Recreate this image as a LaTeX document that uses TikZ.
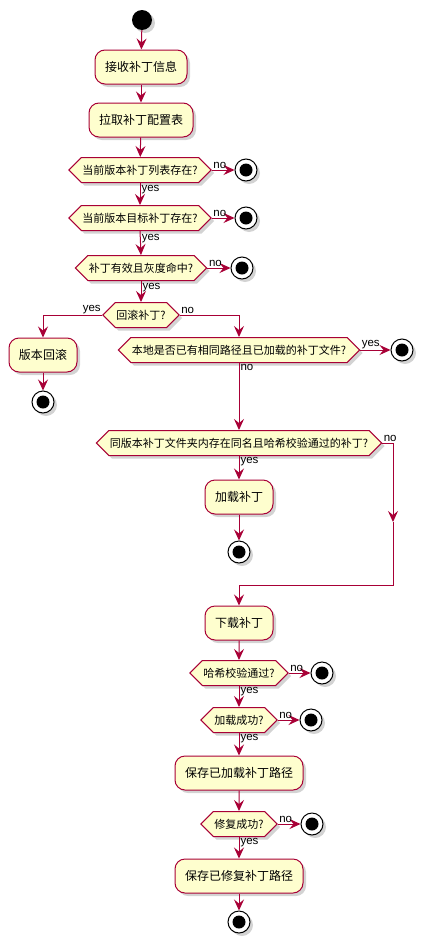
\documentclass[tikz,border=0pt]{standalone}
\usepackage{fontspec}
\setmainfont{Noto Sans CJK SC}
\newfontfamily\lblfont{Liberation Sans}
\usetikzlibrary{arrows.meta,shapes.symbols,shadows}
\definecolor{pumlred}{HTML}{A80036}
\definecolor{pumlfill}{HTML}{FEFECE}
\tikzset{
 shd/.style={drop shadow={opacity=0.35, shadow xshift=3pt, shadow yshift=-3pt, fill=gray}},
 act/.style={draw=pumlred, fill=pumlfill, rounded corners=10pt, minimum height=34pt, inner xsep=10pt, line width=1pt, font=\fontsize{12}{14}\selectfont, shd},
 dec/.style={signal, signal to=east and west, draw=pumlred, fill=pumlfill, minimum height=25pt, inner xsep=1pt, inner ysep=2pt, line width=1pt, font=\fontsize{11}{13}\selectfont, shd},
 startn/.style={circle, fill=black, minimum size=20pt, inner sep=0pt, shd},
 stopn/.style={circle, draw=black, fill=white, line width=1pt, minimum size=22pt, inner sep=0pt, shd, path picture={\fill[black] (path picture bounding box.center) circle (6.5pt);}},
 lbl/.style={font=\lblfont\fontsize{11.5}{12}\selectfont, inner sep=1pt},
 flow/.style={draw=pumlred, line width=1pt, -{Stealth[length=11pt,width=10pt,inset=4pt]}},
 seg/.style={draw=pumlred, line width=1pt},
}
\begin{document}
\begin{tikzpicture}[x=1pt,y=-1pt]
\useasboundingbox (0,0) rectangle (422,945);
\node[startn] (start) at (142,20) {};
\node[act] (b1) at (141,67) {接收补丁信息};
\node[act] (b2) at (141,120) {拉取补丁配置表};
\node[dec] (d1) at (140,170) {当前版本补丁列表存在?};
\node[stopn] (s1) at (246,170) {};
\node[dec] (d2) at (140,218) {当前版本目标补丁存在?};
\node[stopn] (s2) at (246,218) {};
\node[dec] (d3) at (141,268) {补丁有效且灰度命中?};
\node[stopn] (s3) at (242,268) {};
\node[dec] (d4) at (141,315) {回滚补丁?};
\node[act] (rb) at (43,355) {版本回滚};
\node[stopn] (rs) at (43,402) {};
\node[dec] (d5) at (239,350) {本地是否已有相同路径且已加载的补丁文件?};
\node[stopn] (s5) at (402,350) {};
\node[dec] (d6) at (239,443) {同版本补丁文件夹内存在同名且哈希校验通过的补丁?};
\node[act] (lb) at (239,497) {加载补丁};
\node[stopn] (ls) at (239,552) {};
\coordinate (m1) at (393,443);
\coordinate (ma) at (393,522);
\coordinate (m2) at (393,585);
\coordinate (m3) at (239,585);
\node[act] (db) at (239,623) {下载补丁};
\node[dec] (d7) at (239,673) {哈希校验通过?};
\node[stopn] (s7) at (322,673) {};
\node[dec] (d8) at (239,720) {加载成功?};
\node[stopn] (s8) at (311,720) {};
\node[act] (bl) at (239,773) {保存已加载补丁路径};
\node[dec] (d9) at (239,824) {修复成功?};
\node[stopn] (s9) at (312,824) {};
\node[act] (bm) at (239,876) {保存已修复补丁路径};
\node[stopn] (fs) at (239,922) {};

\draw[flow] (start) -- (b1);
\draw[flow] (b1) -- (b2);
\draw[flow] (b2) -- (d1);
\draw[flow] (d1.east) -- (s1) node[lbl, pos=0.35, above] {no};
\draw[flow] (d1.south) -- (d2.north) node[lbl, pos=0.3, right] {yes};
\draw[flow] (d2.east) -- (s2) node[lbl, pos=0.35, above] {no};
\draw[flow] (d2.south) -- (d3.north) node[lbl, pos=0.3, right] {yes};
\draw[flow] (d3.east) -- (s3) node[lbl, pos=0.35, above] {no};
\draw[flow] (d3.south) -- (d4.north) node[lbl, pos=0.3, right] {yes};
\draw[flow] (d4.west) -| (rb.north) node[lbl, pos=0.0, above left] {yes};
\draw[flow] (d4.east) -| (d5.north) node[lbl, pos=0.0, above right] {no};
\draw[flow] (rb) -- (rs);
\draw[flow] (d5.east) -- (s5) node[lbl, pos=0.0, above right] {yes};
\draw[flow] (d5.south) -- (d6.north) node[lbl, pos=0.0, below right] {no};
\draw[flow] (d6.south) -- (lb.north) node[lbl, pos=0.0, below right] {yes};
\draw[flow] (lb) -- (ls);
\draw[seg] (d6.east) -- (m1) node[lbl, pos=0.0, above right] {no};
\draw[flow] (m1) -- (ma);
\draw[seg] (ma) -- (m2) -- (m3);
\draw[flow] (m3) -- (db.north);
\draw[flow] (db) -- (d7);
\draw[flow] (d7.east) -- (s7) node[lbl, pos=0.0, above right] {no};
\draw[flow] (d7.south) -- (d8.north) node[lbl, pos=0.0, below right] {yes};
\draw[flow] (d8.east) -- (s8) node[lbl, pos=0.0, above right] {no};
\draw[flow] (d8.south) -- (bl.north) node[lbl, pos=0.0, below right] {yes};
\draw[flow] (bl) -- (d9);
\draw[flow] (d9.east) -- (s9) node[lbl, pos=0.0, above right] {no};
\draw[flow] (d9.south) -- (bm.north) node[lbl, pos=0.0, below right] {yes};
\draw[flow] (bm) -- (fs);
\end{tikzpicture}
\end{document}
